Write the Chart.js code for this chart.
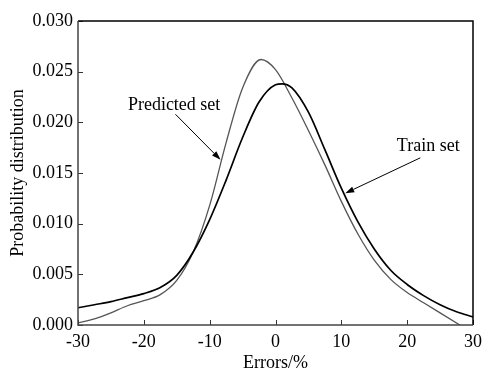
<!DOCTYPE html>
<html>
<head>
<meta charset="utf-8">
<script src="https://cdn.jsdelivr.net/npm/chart.js@4"></script>
<style>
  html, body { margin: 0; padding: 0; background: #fff; }
  #wrap { width: 488px; height: 381px; }
</style>
</head>
<body>
<div id="wrap"><canvas id="c" width="488" height="381"></canvas></div>
<script>
// ---- data ----
const trainX = [-30, -27.5, -25, -22.5, -20, -17.5, -15, -12.5, -10, -7.5, -5, -2.5, 0, 1, 2.5, 5, 7.5, 10, 12.5, 15, 17.5, 20, 22.5, 25, 27.5, 30];
const trainY = [0.0017, 0.0020, 0.0023, 0.0027, 0.0031, 0.0037, 0.0049, 0.0072, 0.0104, 0.0143, 0.0185, 0.0220, 0.0237, 0.0238, 0.0234, 0.0210, 0.0173, 0.0135, 0.0102, 0.0075, 0.0054, 0.0040, 0.0029, 0.0020, 0.0013, 0.0008];
const predX = [-30, -27.5, -25, -22.5, -20, -17.5, -15, -12.5, -10, -7.5, -5, -2.2, 0, 2.5, 5, 7.5, 10, 12.5, 15, 17.5, 20, 22.5, 25, 28];
const predY = [0.0002, 0.0006, 0.0012, 0.0019, 0.0024, 0.0030, 0.0044, 0.0072, 0.0118, 0.0180, 0.0234, 0.0262, 0.0252, 0.0224, 0.0192, 0.0158, 0.0122, 0.0090, 0.0064, 0.0045, 0.0032, 0.0022, 0.0012, 0.0000];
const xTicks = [-30, -20, -10, 0, 10, 20, 30];
const yTicks = [0.000, 0.005, 0.010, 0.015, 0.020, 0.025, 0.030];
const seriesNames = ['Train set', 'Predicted set'];
const xTitle = 'Errors/%';
const yTitle = 'Probability distribution';

// annotation labels (data coordinates)
const notes = [
  { text: 'Predicted set', tx: -15.4, ty: 0.0217, ax0: -15.2, ay0: 0.0208, ax1: -8.35, ay1: 0.0163 },
  { text: 'Train set', tx: 23.2, ty: 0.0176, ax0: 22.0, ay0: 0.0165, ax1: 10.6, ay1: 0.0130 }
];

const FONT = '"Liberation Serif", "Times New Roman", serif';

const toPts = (xs, ys) => xs.map((x, i) => ({ x: x, y: ys[i] }));

const framePlugin = {
  id: 'frame',
  afterDatasetsDraw(chart) {
    const { ctx, chartArea: a, scales } = chart;
    const xs = scales.x, ys = scales.y;
    ctx.save();
    // inward tick marks
    ctx.strokeStyle = '#333';
    ctx.lineWidth = 1;
    xTicks.forEach(v => {
      const px = Math.round(xs.getPixelForValue(v)) + 0.5;
      ctx.beginPath(); ctx.moveTo(px, a.bottom); ctx.lineTo(px, a.bottom - 5); ctx.stroke();
    });
    yTicks.forEach(v => {
      const py = Math.round(ys.getPixelForValue(v)) + 0.5;
      ctx.beginPath(); ctx.moveTo(a.left, py); ctx.lineTo(a.left + 5, py); ctx.stroke();
    });
    // frame
    ctx.lineWidth = 1.5;
    ctx.strokeStyle = '#000';
    ctx.beginPath();
    ctx.moveTo(a.left, a.top); ctx.lineTo(a.right, a.top); ctx.lineTo(a.right, a.bottom);
    ctx.stroke();
    ctx.strokeStyle = '#444';
    ctx.beginPath();
    ctx.moveTo(a.left, a.top); ctx.lineTo(a.left, a.bottom); ctx.lineTo(a.right, a.bottom);
    ctx.stroke();

    // annotations
    ctx.fillStyle = '#000';
    ctx.strokeStyle = '#000';
    ctx.font = '18px ' + FONT;
    ctx.textAlign = 'center';
    ctx.textBaseline = 'middle';
    notes.forEach(n => {
      ctx.fillText(n.text, xs.getPixelForValue(n.tx), ys.getPixelForValue(n.ty));
      const x0 = xs.getPixelForValue(n.ax0), y0 = ys.getPixelForValue(n.ay0);
      const x1 = xs.getPixelForValue(n.ax1), y1 = ys.getPixelForValue(n.ay1);
      const ang = Math.atan2(y1 - y0, x1 - x0);
      const L = 9, W = 3;
      const bx = x1 - L * Math.cos(ang), by = y1 - L * Math.sin(ang);
      ctx.lineWidth = 1;
      ctx.beginPath(); ctx.moveTo(x0, y0); ctx.lineTo(bx, by); ctx.stroke();
      ctx.beginPath();
      ctx.moveTo(x1, y1);
      ctx.lineTo(bx + W * Math.sin(ang), by - W * Math.cos(ang));
      ctx.lineTo(bx - W * Math.sin(ang), by + W * Math.cos(ang));
      ctx.closePath(); ctx.fill();
    });
    ctx.restore();
  }
};

new Chart(document.getElementById('c'), {
  type: 'line',
  data: {
    datasets: [
      { label: seriesNames[0], data: toPts(trainX, trainY), borderColor: '#000', borderWidth: 1.7, pointRadius: 0, fill: false, cubicInterpolationMode: 'monotone' },
      { label: seriesNames[1], data: toPts(predX, predY), borderColor: '#555', borderWidth: 1.3, pointRadius: 0, fill: false, cubicInterpolationMode: 'monotone' }
    ]
  },
  options: {
    responsive: false,
    animation: false,
    events: [],
    layout: { padding: { left: 0, right: 11, top: 21, bottom: 0 } },
    plugins: { legend: { display: false }, tooltip: { enabled: false } },
    scales: {
      x: {
        type: 'linear', min: -30, max: 30,
        afterFit: s => { s.height = 56; },
        afterBuildTicks: s => { s.ticks = xTicks.map(v => ({ value: v })); },
        grid: { display: false, drawTicks: false },
        border: { display: false },
        ticks: { color: '#000', font: { family: FONT, size: 18 }, padding: 6, maxRotation: 0, callback: v => String(v) },
        title: { display: true, text: xTitle, color: '#000', font: { family: FONT, size: 18 }, padding: { top: 0, bottom: 7 } }
      },
      y: {
        type: 'linear', min: 0, max: 0.03,
        afterFit: s => { s.width = 78; },
        afterBuildTicks: s => { s.ticks = yTicks.map(v => ({ value: v })); },
        grid: { display: false, drawTicks: false },
        border: { display: false },
        ticks: { color: '#000', font: { family: FONT, size: 18 }, padding: 5, callback: v => Number(v).toFixed(3) },
        title: { display: true, text: yTitle, color: '#000', font: { family: FONT, size: 18 }, padding: { top: 7, bottom: 0 } }
      }
    }
  },
  plugins: [framePlugin]
});
</script>
</body>
</html>
